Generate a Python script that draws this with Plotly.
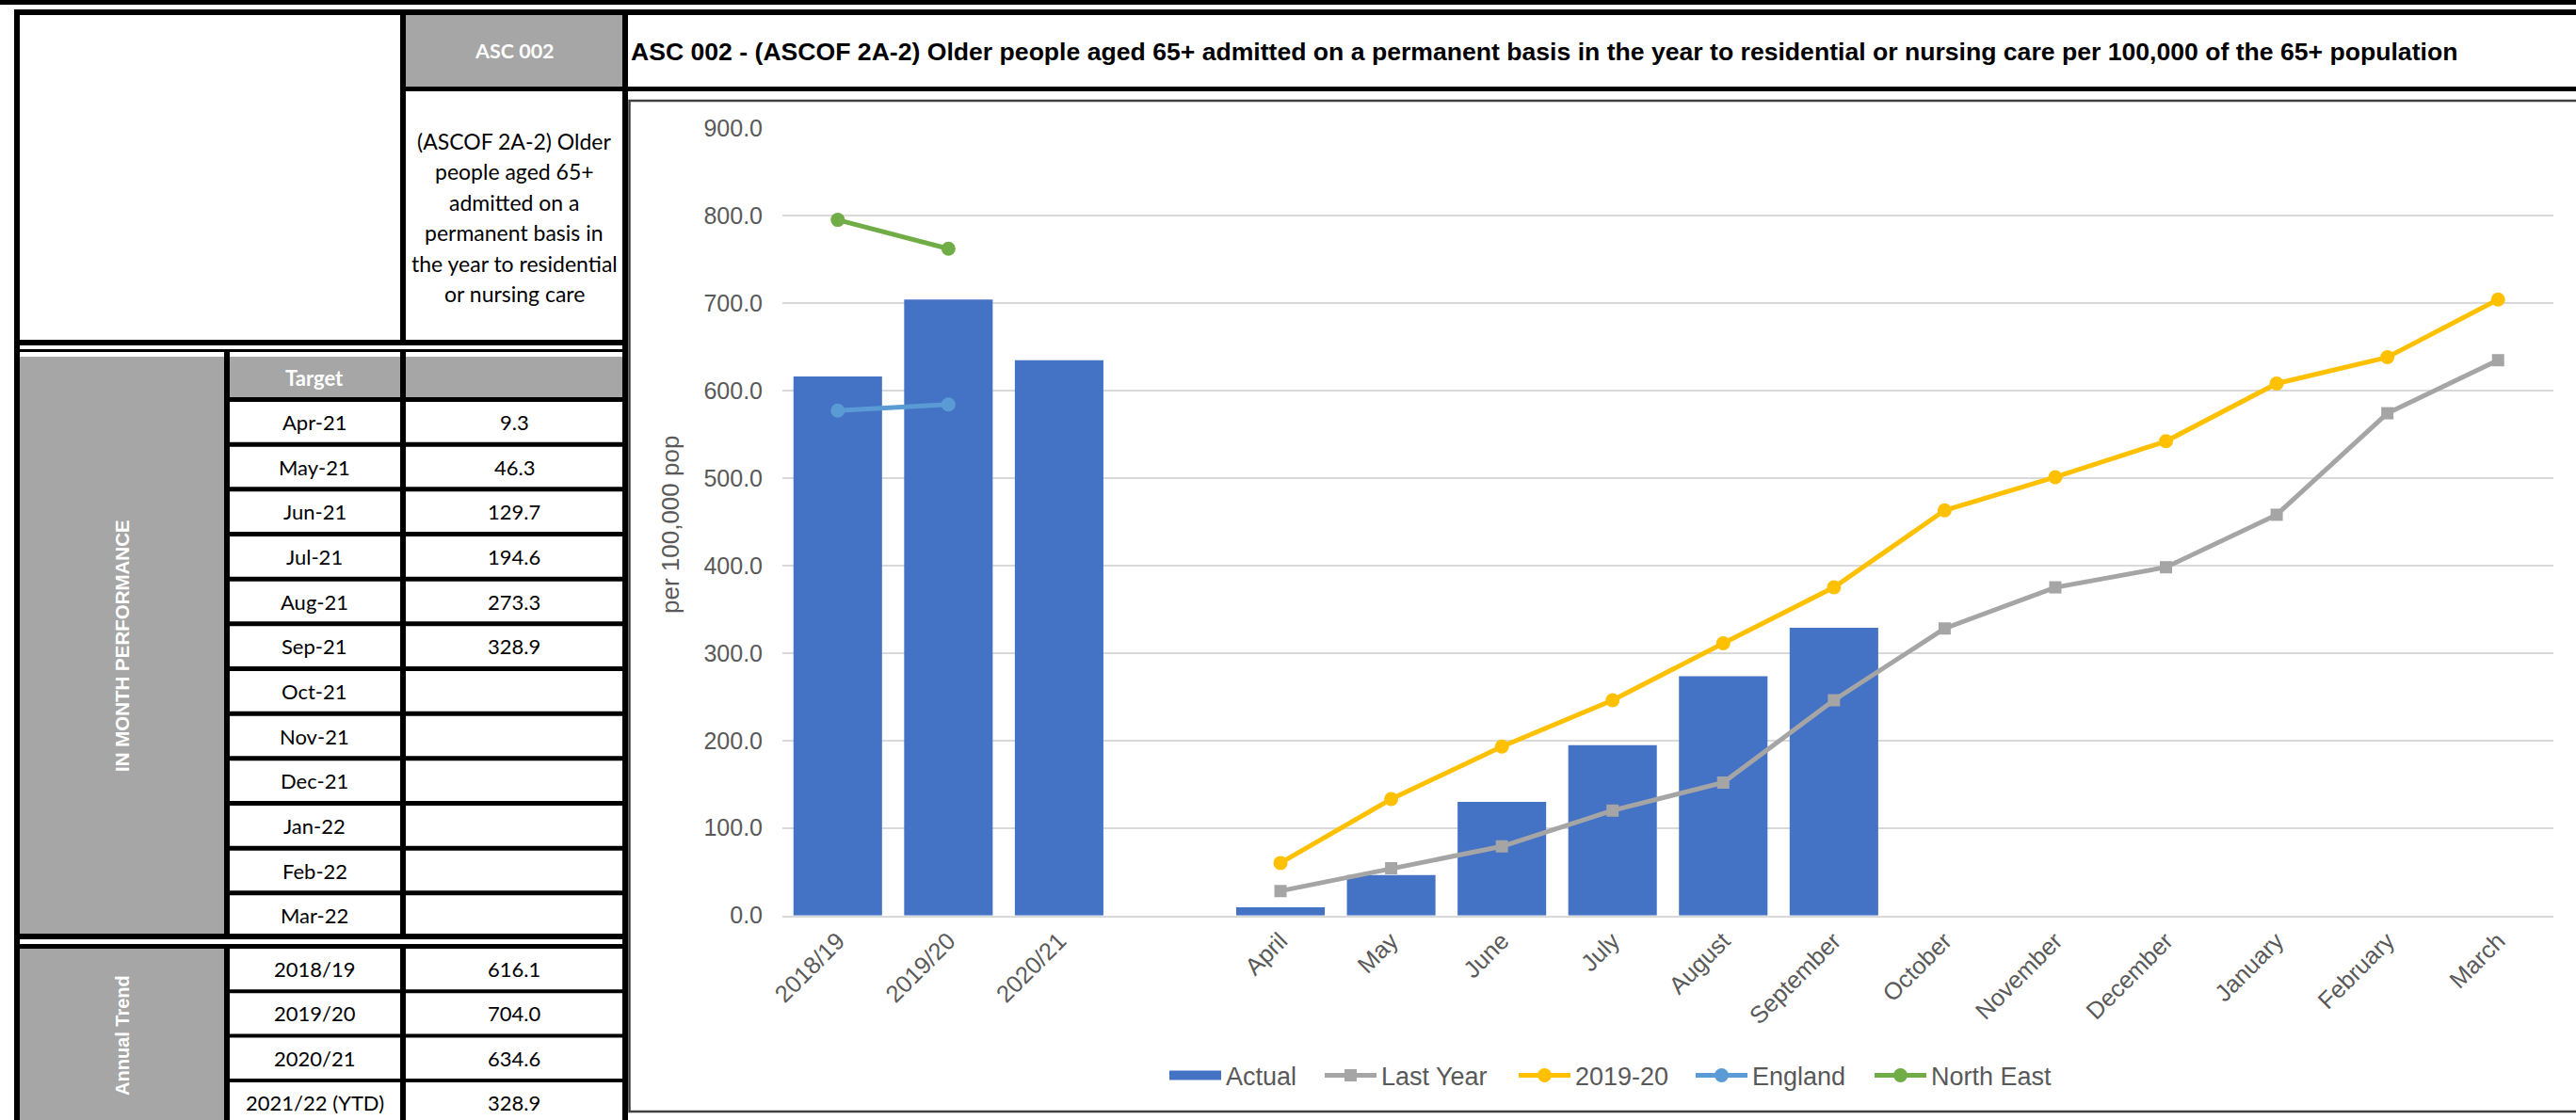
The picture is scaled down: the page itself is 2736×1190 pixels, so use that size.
import plotly.graph_objects as go

# ---------------- data ----------------
annual_labels = ["2018/19", "2019/20", "2020/21"]
annual_actual = [616.1, 704.0, 634.6]
gap_label = " "
months = ["April", "May", "June", "July", "August", "September",
          "October", "November", "December", "January", "February", "March"]
monthly_actual = [9.3, 46.3, 129.7, 194.6, 273.3, 328.9, None, None, None, None, None, None]
last_year = [28, 54, 79, 120, 152, 246, 328, 375, 398, 458, 574, 634.6]
year_2019_20 = [60, 133, 193, 246, 311, 375, 463, 501, 542, 608, 638, 704.0]
england = [577, 584]
north_east = [795, 762]

target_months = ["Apr-21", "May-21", "Jun-21", "Jul-21", "Aug-21", "Sep-21",
                 "Oct-21", "Nov-21", "Dec-21", "Jan-22", "Feb-22", "Mar-22"]
trend_labels = ["2018/19", "2019/20", "2020/21", "2021/22 (YTD)"]
trend_values = [616.1, 704.0, 634.6, 328.9]

title_text = ("ASC 002 - (ASCOF 2A-2) Older people aged 65+ admitted on a permanent basis "
              "in the year to residential or nursing care per 100,000 of the 65+ population")
code_text = "ASC 002"
desc_lines = ["(ASCOF 2A-2) Older", "people aged 65+", "admitted on a",
              "permanent basis in", "the year to residential", "or nursing care"]
y_title = "per 100,000 pop"

# ---------------- styling ----------------
W, H = 2736, 1190
BLUE = "#4472C4"
GREY_L = "#A5A5A5"
GOLD = "#FFC000"
ENG = "#5B9BD5"
NE = "#70AD47"
AX = "#595959"
CELL_GRAY = "#A6A6A6"
CHART_FONT = "Liberation Sans, Arial, sans-serif"
CELL_FONT = "Lato, Carlito, Calibri, sans-serif"


def px(x):
    return x / W


def py(y):
    return 1 - y / H


categories = annual_labels + [gap_label] + months
bar_values = annual_actual + [None] + monthly_actual

fig = go.Figure()
fig.add_trace(go.Bar(x=categories, y=bar_values, name="Actual", marker_color=BLUE,
                     marker_line_width=0, showlegend=False, legendgroup="actual"))
# legend entry for the bars drawn as a wide block, as in the original
fig.add_trace(go.Scatter(x=[None], y=[None], name="Actual", mode="lines",
                         line=dict(color=BLUE, width=13), legendgroup="actual",
                         legend="legend"))
fig.add_trace(go.Scatter(x=months, y=last_year, name="Last Year", mode="lines+markers",
                         line=dict(color=GREY_L, width=5),
                         marker=dict(symbol="square", size=13, color=GREY_L),
                         legend="legend2"))
fig.add_trace(go.Scatter(x=months, y=year_2019_20, name="2019-20", mode="lines+markers",
                         line=dict(color=GOLD, width=5),
                         marker=dict(symbol="circle", size=15, color=GOLD),
                         legend="legend3"))
fig.add_trace(go.Scatter(x=annual_labels[:2], y=england, name="England", mode="lines+markers",
                         line=dict(color=ENG, width=5),
                         marker=dict(symbol="circle", size=15, color=ENG),
                         legend="legend4"))
fig.add_trace(go.Scatter(x=annual_labels[:2], y=north_east, name="North East", mode="lines+markers",
                         line=dict(color=NE, width=5),
                         marker=dict(symbol="circle", size=15, color=NE),
                         legend="legend5"))

# ---------------- table decoration shapes ----------------
shapes = []


def rect(x0, y0, x1, y1, color):
    shapes.append(dict(type="rect", xref="paper", yref="paper",
                       x0=px(x0), x1=px(x1), y0=py(y1), y1=py(y0),
                       fillcolor=color, line_width=0, layer="below"))


# top double lines
rect(0, 0, W, 5, "black")
rect(15, 10, W, 16, "black")
# left & right borders of the left tables
rect(15, 10, 21, H, "black")
rect(661, 10, 667, H, "black")
# top-left box
rect(425, 10, 431, 367, "black")
rect(431, 16, 661, 92, CELL_GRAY)
rect(425, 92, W, 97, "black")
rect(15, 361, 667, 367, "black")
rect(15, 371, 667, 374, "black")
# in-month table
row_top = 422
row_pitch = (994 - 422) / 12
rect(21, 379, 238, 992, CELL_GRAY)
rect(238, 374, 244, 998, "black")
rect(425, 374, 431, 998, "black")
rect(244, 379, 425, row_top, CELL_GRAY)
rect(431, 379, 661, row_top, CELL_GRAY)
for i in range(12):
    y = row_top + i * row_pitch
    rect(244, y, 661, y + 5, "black")
rect(15, 992, 667, 998, "black")
# annual trend table
rect(15, 1003, 667, 1008, "black")
rect(21, 1008, 238, H, CELL_GRAY)
rect(238, 1003, 244, H, "black")
rect(425, 1003, 431, H, "black")
trend_top = 1008
trend_pitch = 47.3
for i in range(1, 4):
    y = trend_top + i * trend_pitch - 4
    rect(244, y, 661, y + 4, "black")

# chart frame
shapes.append(dict(type="rect", xref="paper", yref="paper",
                   x0=px(668.5), x1=px(W + 10), y0=py(1181), y1=py(107),
                   line=dict(color="#404040", width=2.5), fillcolor="rgba(0,0,0,0)",
                   layer="below"))

# ---------------- annotations ----------------
ann = []


def text(x, y, s, size=22, color="black", bold=False, family=CELL_FONT, angle=0,
         xanchor="center"):
    ann.append(dict(xref="paper", yref="paper", x=px(x), y=py(y), text=s, showarrow=False,
                    xanchor=xanchor, yanchor="middle", textangle=angle,
                    font=dict(size=size, color=color, family=family,
                              weight="bold" if bold else "normal")))


text(668, 55, title_text, size=26.6, bold=True, family=CHART_FONT, xanchor="left")
text(546, 54, code_text, size=21.5, color="white", bold=True)
for i, line in enumerate(desc_lines):
    text(546, 150 + i * 32.4, line, size=23)
text(334, 401, "Target", size=22, color="white", bold=True)
for i, (m, v) in enumerate(zip(target_months, monthly_actual)):
    yc = row_top + 5 + i * row_pitch + (row_pitch - 5) / 2
    text(334, yc, m)
    text(546, yc, "" if v is None else f"{v:.1f}")
text(130, 686, "IN MONTH PERFORMANCE", size=20.5, color="white", bold=True,
     family=CHART_FONT, angle=-90)
for i, (lab, v) in enumerate(zip(trend_labels, trend_values)):
    yc = trend_top + i * trend_pitch + trend_pitch / 2 - 2
    text(334, yc, lab)
    text(546, yc, f"{v:.1f}")
text(130, 1100, "Annual Trend", size=20, color="white", bold=True,
     family=CHART_FONT, angle=-90)
text(712, 558, y_title, size=26, color=AX, family=CHART_FONT, angle=-90)

# one legend box per entry so the spacing follows the original
legend_starts = [1242, 1407, 1613, 1801, 1991]
legend_keys = ["legend", "legend2", "legend3", "legend4", "legend5"]
legend_layout = {}
for key, xs in zip(legend_keys, legend_starts):
    legend_layout[key] = dict(orientation="h", x=px(xs - 5), xanchor="left",
                              y=py(1143), yanchor="middle",
                              font=dict(size=27, color=AX, family=CHART_FONT),
                              itemwidth=55, bgcolor="rgba(0,0,0,0)", borderwidth=0)

fig.update_layout(
    width=W, height=H,
    margin=dict(l=0, r=0, t=0, b=0, pad=0, autoexpand=False),
    paper_bgcolor="white", plot_bgcolor="white",
    bargap=0.2,
    font=dict(family=CHART_FONT, color=AX),
    shapes=shapes, annotations=ann,
    showlegend=True,
    xaxis=dict(domain=[px(831), px(2712)], type="category",
               categoryorder="array", categoryarray=categories,
               range=[-0.5, len(categories) - 0.5], autorange=False,
               tickangle=-45, tickfont=dict(size=25.5, color=AX),
               showgrid=False, showline=True, linecolor="#D9D9D9", linewidth=2,
               ticks="", fixedrange=True, automargin=False),
    yaxis=dict(domain=[py(972.7), py(136)], range=[0, 900], autorange=False,
               dtick=100, tickformat=".1f",
               tickfont=dict(size=25, color=AX), showgrid=True, gridcolor="#D9D9D9",
               gridwidth=1.5, zeroline=False, showline=False, ticks="",
               ticklabelstandoff=20, fixedrange=True, automargin=False),
    **legend_layout,
)

fig.write_html("out.html")
